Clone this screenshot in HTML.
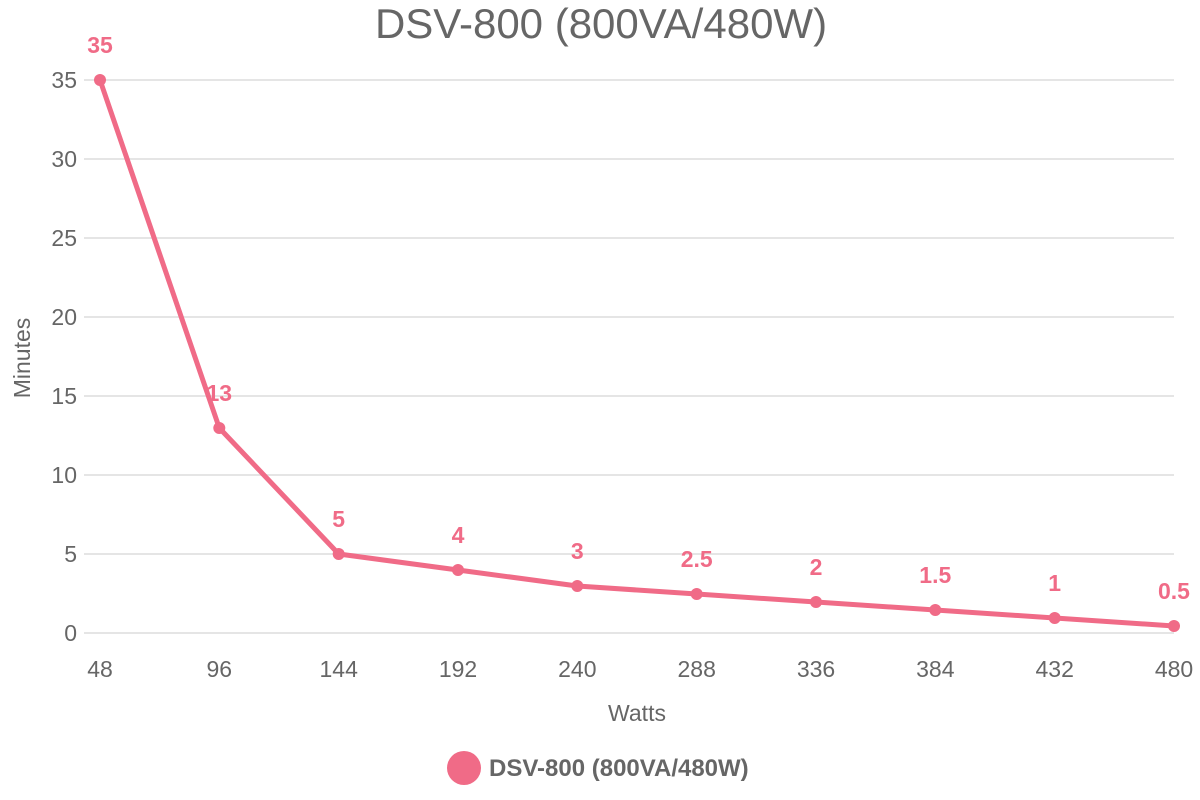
<!DOCTYPE html>
<html><head><meta charset="utf-8"><style>body{margin:0;background:#fff}svg{display:block}text{font-family:"Liberation Sans",sans-serif}</style></head>
<body>
<svg width="1200" height="800" viewBox="0 0 1200 800">
<text x="601" y="38" text-anchor="middle" font-size="42" fill="#666">DSV-800 (800VA/480W)</text>
<g stroke="#e5e5e5" stroke-width="2">
<line x1="84" x2="1174" y1="633" y2="633"/><line x1="84" x2="1174" y1="554" y2="554"/><line x1="84" x2="1174" y1="475" y2="475"/><line x1="84" x2="1174" y1="396" y2="396"/><line x1="84" x2="1174" y1="317" y2="317"/><line x1="84" x2="1174" y1="238" y2="238"/><line x1="84" x2="1174" y1="159" y2="159"/><line x1="84" x2="1174" y1="80" y2="80"/>
</g>
<g font-size="23" fill="#666" text-anchor="end">
<text x="77" y="641">0</text><text x="77" y="562">5</text><text x="77" y="483">10</text><text x="77" y="404">15</text><text x="77" y="325">20</text><text x="77" y="246">25</text><text x="77" y="167">30</text><text x="77" y="88">35</text>
</g>
<g font-size="23" fill="#666" text-anchor="middle">
<text x="100" y="677">48</text><text x="219.3" y="677">96</text><text x="338.7" y="677">144</text><text x="458" y="677">192</text><text x="577.3" y="677">240</text><text x="696.7" y="677">288</text><text x="816" y="677">336</text><text x="935.3" y="677">384</text><text x="1054.7" y="677">432</text><text x="1174" y="677">480</text>
<text x="637" y="721">Watts</text>
<text transform="translate(30 358) rotate(-90)">Minutes</text>
</g>
<polyline fill="none" stroke="#f06b87" stroke-width="5" stroke-linejoin="round" points="100,80 219.3,428 338.7,554 458,570 577.3,586 696.7,594 816,602 935.3,610 1054.7,618 1174,626"/>
<g fill="#f06b87">
<circle cx="100" cy="80" r="6"/><circle cx="219.3" cy="428" r="6"/><circle cx="338.7" cy="554" r="6"/><circle cx="458" cy="570" r="6"/><circle cx="577.3" cy="586" r="6"/><circle cx="696.7" cy="594" r="6"/><circle cx="816" cy="602" r="6"/><circle cx="935.3" cy="610" r="6"/><circle cx="1054.7" cy="618" r="6"/><circle cx="1174" cy="626" r="6"/>
</g>
<g font-size="23" font-weight="bold" fill="#f06b87" text-anchor="middle">
<text x="100" y="53">35</text><text x="219.3" y="401">13</text><text x="338.7" y="527">5</text><text x="458" y="543">4</text><text x="577.3" y="559">3</text><text x="696.7" y="567">2.5</text><text x="816" y="575">2</text><text x="935.3" y="583">1.5</text><text x="1054.7" y="591">1</text><text x="1174" y="599">0.5</text>
</g>
<circle cx="464" cy="768" r="17" fill="#f06b87"/>
<text x="489" y="776" font-size="24" font-weight="bold" fill="#666">DSV-800 (800VA/480W)</text>
</svg>
</body></html>
